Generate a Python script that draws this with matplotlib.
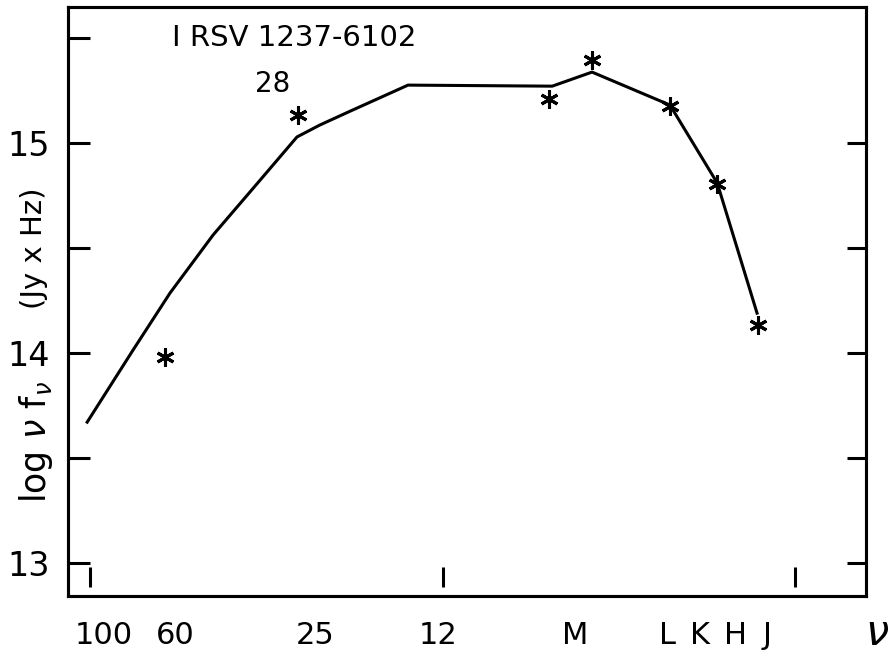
import numpy as np
import matplotlib
matplotlib.use("Agg")
import matplotlib.pyplot as plt

# Axis coordinate: log frequency, y: log nu f_nu
model_x = [12.492, 12.622, 12.727, 12.849, 12.968, 13.087, 13.152,
           13.238, 13.402, 13.811, 13.924, 14.145, 14.279, 14.392]
model_y = [13.671, 14.014, 14.286, 14.562, 14.795, 15.029, 15.086,
           15.152, 15.276, 15.271, 15.338, 15.181, 14.810, 14.190]

obs_x = [12.713, 13.090, 13.802, 13.924, 14.145, 14.279, 14.395]
obs_y = [13.981, 15.133, 15.210, 15.395, 15.176, 14.805, 14.133]

band_pos = [12.540, 12.741, 13.138, 13.487, 13.876, 14.137, 14.230, 14.330, 14.421]
band_labels = ["100", "60", "25", "12", "M", "L", "K", "H", "J"]
freq_ticks = [12.5, 13.5, 14.5]

y_major = [13, 14, 15]
y_minor = [13.5, 14.5, 15.5]
right_ticks = [13, 13.5, 14, 14.5, 15]

plt.rcParams["font.family"] = ["DejaVu Sans"]

fig = plt.figure(figsize=(8.96, 6.55), dpi=100)
ax = fig.add_axes([68 / 896, 59 / 655, 798 / 896, 589 / 655])

ax.plot(model_x, model_y, color="black", lw=2.2, zorder=2)
ax.plot(obs_x, obs_y, ls="none", marker=(6, 2, 0), ms=13, mew=2.2,
        color="black", zorder=3)

# floating frequency marks above the bottom axis
ax.vlines(freq_ticks, 12.886, 12.981, color="black", lw=2.2)

ax.set_xlim(12.4376, 14.701)
ax.set_ylim(12.843, 15.648)

ax.set_xticks(band_pos)
ax.set_xticklabels(band_labels, fontsize=22)
ax.tick_params(axis="x", length=0, pad=18)

ax.set_yticks(y_major)
ax.set_yticks(y_minor, minor=True)
ax.set_yticklabels([str(v) for v in y_major], fontsize=24)
ax.tick_params(axis="y", which="both", direction="in", length=16, width=2.2)
for lab in ax.get_yticklabels():
    lab.set_horizontalalignment("center")
ax.yaxis.set_tick_params(pad=28)

axr = ax.twinx()
axr.set_ylim(ax.get_ylim())
axr.set_yticks(right_ticks)
axr.set_yticklabels([])
axr.tick_params(axis="y", direction="in", length=14, width=2.2)

for a in (ax, axr):
    for s in a.spines.values():
        s.set_linewidth(2.2)

ax.text(0.284, 0.947, "I RSV 1237-6102", transform=ax.transAxes,
        ha="center", va="center", fontsize=21)
ax.text(0.256, 0.869, "28", transform=ax.transAxes,
        ha="center", va="center", fontsize=20)

fig.text(36 / 896, 1 - 442 / 655, r"log $\nu$ f$_\nu$", rotation=90,
         ha="center", va="center", fontsize=25)
fig.text(34 / 896, 1 - 248 / 655, "(Jy x Hz)", rotation=90,
         ha="center", va="center", fontsize=21)
fig.text(877 / 896, 1 - 633 / 655, r"$\nu$", ha="center", va="center",
         fontsize=30)

fig.savefig("out.png", dpi=100)
